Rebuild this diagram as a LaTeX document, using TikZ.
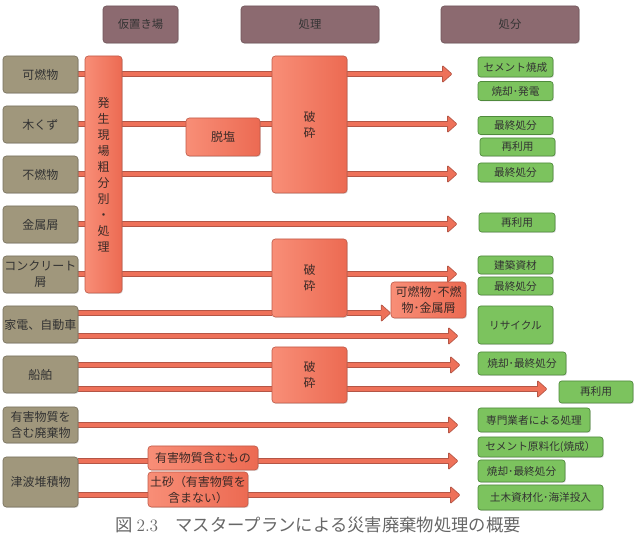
\documentclass[tikz,border=0pt]{standalone}
\usepackage{fontspec}
\newfontfamily\jp{Noto Sans CJK JP}
\usetikzlibrary{backgrounds,shadows,calc}
\definecolor{hdrc}{HTML}{8C6A70}
\definecolor{srcc}{HTML}{A0977C}
\definecolor{procl}{HTML}{F88E77}
\definecolor{procr}{HTML}{EC6A52}
\definecolor{procb}{HTML}{C05A48}
\definecolor{dstc}{HTML}{7CC35E}
\definecolor{dstb}{HTML}{4F8A3C}
\definecolor{bandfill}{HTML}{EE7159}
\definecolor{bandline}{HTML}{B45646}
\definecolor{txt}{HTML}{333333}
\definecolor{ptxt}{HTML}{3C2A27}
\definecolor{capc}{HTML}{666666}
\newcommand\arrowband[2]{%
  \draw[band] (#1) -- ($(#2)+(-8.5,0)$);
  \filldraw[head] ($(#2)+(-9.5,-2.6)$) -- ($(#2)+(-9.5,-8.5)$) -- (#2) -- ($(#2)+(-9.5,8.5)$) -- ($(#2)+(-9.5,2.6)$);}
\begin{document}
\begin{tikzpicture}[x=0.75pt,y=-0.75pt,
  wh/.style 2 args={minimum width=#1*0.75pt, minimum height=#2*0.75pt},
  box/.style={rectangle, rounded corners=2.5pt, inner sep=0pt, align=center,
    font=\jp\fontsize{9}{12}\selectfont, text=txt, line width=0.5pt,
    drop shadow={shadow xshift=0.7pt, shadow yshift=-0.7pt, opacity=0.25}},
  hdr/.style={box, fill=hdrc, draw=hdrc!80!black, font=\jp\fontsize{8.5}{10}\selectfont},
  src/.style={box, fill=srcc, draw=srcc!75!black},
  proc/.style={box, left color=procl, right color=procr, draw=procb, text=ptxt},
  dst/.style={box, fill=dstc, draw=dstb, rounded corners=2pt, font=\jp\fontsize{8}{10}\selectfont},
  band/.style={draw=bandline, line width=0.5pt, double=bandfill, double distance=3.4pt},
  head/.style={fill=bandfill, draw=bandline, line width=0.5pt, line join=round, rounded corners=0.6pt}]
\useasboundingbox (0,0) rectangle (637,535);

% headers
\node[hdr, wh={75}{37}] (h1) at (140.5,24.5) {仮置き場};
\node[hdr, wh={138}{37}] (h2) at (310,24.5) {処理};
\node[hdr, wh={138}{37}] (h3) at (510,24.5) {処分};

% sources
\node[src, wh={75}{37}] (kanen) at (40.5,74.5) {可燃物};
\node[src, wh={75}{37}] (mokuzu) at (40.5,124.5) {木くず};
\node[src, wh={75}{37}] (funen) at (40.5,174.5) {不燃物};
\node[src, wh={75}{37}] (kinzoku) at (40.5,224.5) {金属屑};
\node[src, wh={75}{37}] (concrete) at (40.5,274.5) {コンクリート\\屑};
\node[src, wh={75}{37}] (kaden) at (40.5,324.5) {家電、自動車};
\node[src, wh={75}{37}] (senpaku) at (40.5,374.5) {船舶};
\node[src, wh={75}{36}] (yugai) at (40.5,425) {有害物質を\\含む廃棄物};
\node[src, wh={75}{50}] (tsunami) at (40.5,482) {津波堆積物};

% processing
\node[proc, wh={37}{237}] (hassei) at (103.5,174.5) {発\\生\\現\\場\\粗\\分\\別\\・\\処\\理};
\node[proc, wh={74}{38}] (datsuen) at (223,137) {脱塩};
\node[proc, wh={75}{137}] (hasai1) at (309.5,124.5) {破\\砕};
\node[proc, wh={75}{78}] (hasai2) at (309.5,278) {破\\砕};
\node[proc, wh={75}{56}] (hasai3) at (309.5,375) {破\\砕};
\node[proc, wh={75}{36}] (mix) at (428.5,300) {可燃物･不燃\\物･金属屑};
\node[proc, wh={110}{24}] (yugaimono) at (203,458) {有害物質含むもの};
\node[proc, wh={100}{35}] (dosha) at (198,489.5) {土砂（有害物質を\\含まない）};

% destinations
\node[dst, wh={75}{20}] (d1) at (515.5,67) {セメント焼成};
\node[dst, wh={75}{19}] (d2) at (515.5,91) {焼却･発電};
\node[dst, wh={75}{18}] (d3) at (515.5,125.5) {最終処分};
\node[dst, wh={75}{18}] (d4) at (517.5,147) {再利用};
\node[dst, wh={75}{19}] (d5) at (515.5,172.5) {最終処分};
\node[dst, wh={76}{19}] (d6) at (517,222.5) {再利用};
\node[dst, wh={75}{18}] (d7) at (515.5,265) {建築資材};
\node[dst, wh={75}{18}] (d8) at (515.5,286) {最終処分};
\node[dst, wh={75}{38}] (d9) at (515.5,325) {リサイクル};
\node[dst, wh={88}{23}] (d10) at (522,363.5) {焼却･最終処分};
\node[dst, wh={74}{22}] (d11) at (596,392) {再利用};
\node[dst, wh={112}{24}] (d12) at (534,420) {専門業者による処理};
\node[dst, wh={125}{20}] (d13) at (540.5,447) {セメント原料化(焼成）};
\node[dst, wh={87}{22}] (d14) at (521.5,471) {焼却･最終処分};
\node[dst, wh={125}{25}] (d15) at (540.5,497.5) {土木資材化･海洋投入};

% caption
\node[font=\jp\fontsize{13}{14}\selectfont, text=capc, inner sep=0pt] (cap) at (318,525)
  {図 {\rmfamily 2.3}\quad マスタープランによる災害廃棄物処理の概要};

% tips
\coordinate (t1) at (452,74);
\coordinate (t2) at (457,124);
\coordinate (t3) at (457,174);
\coordinate (t4) at (457,224);
\coordinate (t5) at (457,274);
\coordinate (t6) at (458,336);
\coordinate (t7) at (460,365);
\coordinate (t8) at (547,389);
\coordinate (t9) at (458,425);
\coordinate (t10) at (458,461);
\coordinate (t11) at (460,495);
\coordinate (mixin) at (mix.west |- 0,313);

\begin{scope}[on background layer]
  \draw[band] (kanen.east |- t1) -- (hasai1.west |- t1);
  \arrowband{hasai1.east |- t1}{t1}
  \draw[band] (mokuzu.east |- t2) -- (hasai1.west |- t2);
  \arrowband{hasai1.east |- t2}{t2}
  \draw[band] (funen.east |- t3) -- (hasai1.west |- t3);
  \arrowband{hasai1.east |- t3}{t3}
  \arrowband{kinzoku.east |- t4}{t4}
  \draw[band] (concrete.east |- t5) -- (hasai2.west |- t5);
  \arrowband{hasai2.east |- t5}{t5}
  \arrowband{hasai2.east |- mixin}{mixin}
  \draw[band] (kaden.east |- mixin) -- (hasai2.west |- mixin);
  \arrowband{kaden.east |- t6}{t6}
  \draw[band] (senpaku.east |- t7) -- (hasai3.west |- t7);
  \draw[band] (senpaku.east |- t8) -- (hasai3.west |- t8);
  \arrowband{hasai3.east |- t7}{t7}
  \arrowband{hasai3.east |- t8}{t8}
  \arrowband{yugai.east |- t9}{t9}
  \draw[band] (tsunami.east |- t10) -- (yugaimono.west |- t10);
  \arrowband{yugaimono.east |- t10}{t10}
  \draw[band] (tsunami.east |- t11) -- (dosha.west |- t11);
  \arrowband{dosha.east |- t11}{t11}
\end{scope}
\end{tikzpicture}
\end{document}
